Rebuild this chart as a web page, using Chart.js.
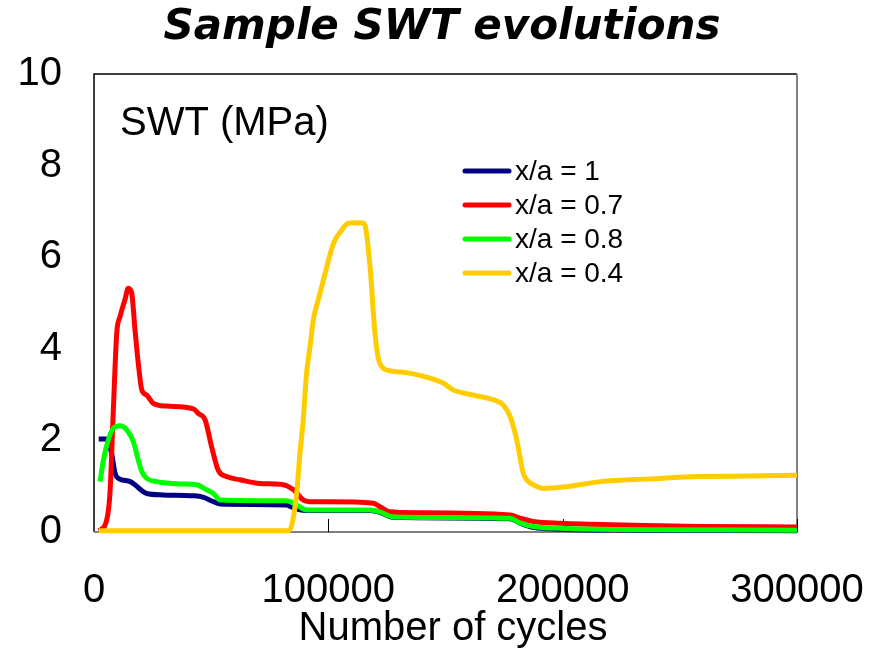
<!DOCTYPE html>
<html>
<head>
<meta charset="utf-8">
<title>Sample SWT evolutions</title>
<script src="https://cdn.jsdelivr.net/npm/chart.js@4.4.1/dist/chart.umd.min.js"></script>
<style>
    html, body { margin: 0; padding: 0; background: #fff; }
</style>
</head>
<body>
<canvas id="chart" width="876" height="667"></canvas>
<script>
// ─── Data ────────────────────────────────────────────────
const TITLE = 'Sample SWT evolutions';
const Y_LABEL = 'SWT (MPa)';
const X_LABEL = 'Number of cycles';
const X_TICKS = [0, 100000, 200000, 300000];
const Y_TICKS = [0, 2, 4, 6, 8, 10];

const SERIES_LABELS = ['x/a = 1', 'x/a = 0.7', 'x/a = 0.8', 'x/a = 0.4'];
const SERIES_COLORS = ['#000080', '#ff0000', '#00ff00', '#ffcc00'];

// x/a = 1
const cyclesA = [2000, 5000, 7500, 9000, 10500, 15500, 17500, 20500, 22500, 29500, 42500, 46500, 51000, 54000,
    82000, 85000, 90000, 118000, 122000, 127500, 177500, 182000, 187500, 199000, 230000, 300000];
const swtA = [2.03, 2.03, 1.72, 1.28, 1.17, 1.10, 1.03, 0.90, 0.84, 0.81, 0.79, 0.76, 0.66, 0.61,
    0.59, 0.53, 0.47, 0.47, 0.43, 0.32, 0.29, 0.19, 0.10, 0.06, 0.04, 0.03];

// x/a = 0.7
const cyclesB = [2000, 4700, 6800, 8200, 9700, 11100, 13200, 14600, 16100, 17500, 18900, 20400, 22500, 25300,
    31000, 42400, 44500, 47400, 50200, 53000, 56600, 62300, 70800, 80000, 85000, 89300, 93600, 100700,
    119200, 122000, 126300, 136300, 177600, 181800, 187500, 199000, 230000, 258600, 300000];
const swtB = [0.03, 0.15, 0.84, 2.59, 4.34, 4.70, 5.07, 5.32, 5.21, 4.41, 3.68, 3.10, 2.99, 2.81,
    2.75, 2.69, 2.59, 2.45, 1.86, 1.35, 1.21, 1.14, 1.06, 1.04, 0.93, 0.70, 0.66, 0.66,
    0.63, 0.55, 0.44, 0.42, 0.37, 0.30, 0.23, 0.19, 0.15, 0.12, 0.11];

// x/a = 0.8
const cyclesC = [2600, 4000, 6100, 8200, 11100, 14000, 16800, 18900, 20400, 22500, 26800, 36700, 43800, 48100,
    50900, 53800, 82200, 86500, 90700, 117800, 122000, 127700, 177600, 181800, 187500, 199000, 230000, 300000];
const swtC = [1.10, 1.57, 2.01, 2.26, 2.32, 2.23, 1.97, 1.57, 1.32, 1.17, 1.10, 1.05, 1.03, 0.92,
    0.84, 0.70, 0.68, 0.59, 0.48, 0.48, 0.44, 0.33, 0.30, 0.20, 0.12, 0.08, 0.05, 0.04];

// x/a = 0.4
const cyclesD = [2000, 82200, 83600, 85000, 86500, 87900, 89300, 90700, 92200, 93600, 95700, 97900, 102200,
    105700, 108500, 114200, 115600, 117800, 119900, 122000, 126300, 133400, 143400, 149100, 153400, 161900,
    171900, 174500, 177600, 180400, 183200, 185000, 187500, 191800, 201700, 216000, 237300, 258600, 280000, 300000];
const swtD = [0.03, 0.03, 0.05, 0.30, 0.84, 1.72, 2.45, 3.46, 4.05, 4.63, 5.07, 5.50, 6.30,
    6.59, 6.74, 6.75, 6.70, 5.79, 4.34, 3.68, 3.52, 3.48, 3.36, 3.25, 3.10, 2.99,
    2.86, 2.78, 2.52, 2.01, 1.28, 1.12, 1.03, 0.95, 0.99, 1.10, 1.16, 1.21, 1.22, 1.24];

const FONT = "'Liberation Sans', Arial, sans-serif";

const toPoints = (xs, ys) => xs.map((x, i) => ({ x, y: ys[i] }));
const seriesPoints = [
    toPoints(cyclesA, swtA),
    toPoints(cyclesB, swtB),
    toPoints(cyclesC, swtC),
    toPoints(cyclesD, swtD),
];

// Frame, inner ticks, titles, inner label and legend
const decorPlugin = {
    id: 'decor',
    beforeDatasetsDraw(chart) {
        const { ctx, chartArea: a, scales } = chart;
        ctx.save();
        ctx.lineWidth = 1.5;
        ctx.strokeStyle = '#000';
        ctx.beginPath();
        ctx.moveTo(a.left, a.bottom);
        ctx.lineTo(a.left, a.top);
        ctx.lineTo(a.right, a.top);
        ctx.stroke();
        ctx.strokeStyle = '#808080';
        ctx.lineWidth = 2;
        ctx.beginPath();
        ctx.moveTo(a.right, a.top);
        ctx.lineTo(a.right, a.bottom);
        ctx.lineTo(a.left, a.bottom);
        ctx.stroke();
        // small inward tick marks on the x axis
        ctx.strokeStyle = '#000';
        ctx.lineWidth = 1;
        X_TICKS.slice(1).forEach(v => {
            const px = Math.round(scales.x.getPixelForValue(v)) + 0.5;
            ctx.beginPath();
            ctx.moveTo(px, a.bottom);
            ctx.lineTo(px, a.bottom - 13);
            ctx.stroke();
        });
        ctx.restore();
    },
    afterDraw(chart) {
        const { ctx, chartArea: a } = chart;
        ctx.save();
        ctx.fillStyle = '#000';

        // title
        ctx.font = "italic bold 42px 'DejaVu Sans', sans-serif";
        ctx.textAlign = 'center';
        ctx.textBaseline = 'middle';
        ctx.fillText(TITLE, 442, 28);

        // x axis title
        ctx.font = `40px ${FONT}`;
        ctx.textBaseline = 'alphabetic';
        ctx.fillText(X_LABEL, 453, 640);

        // label inside the plot
        ctx.textAlign = 'left';
        ctx.fillText(Y_LABEL, a.left + 26, 135);

        // legend
        ctx.font = `28px ${FONT}`;
        ctx.textBaseline = 'middle';
        SERIES_LABELS.forEach((lab, i) => {
            const y = 171 + i * 34;
            ctx.strokeStyle = SERIES_COLORS[i];
            ctx.lineWidth = 5;
            ctx.lineCap = 'round';
            ctx.beginPath();
            ctx.moveTo(465, y);
            ctx.lineTo(509, y);
            ctx.stroke();
            ctx.fillText(lab, 515, y + 1);
        });
        ctx.restore();
    }
};

new Chart(document.getElementById('chart'), {
    type: 'scatter',
    data: {
        datasets: seriesPoints.map((pts, i) => ({
            label: SERIES_LABELS[i],
            data: pts,
            showLine: true,
            borderColor: SERIES_COLORS[i],
            backgroundColor: SERIES_COLORS[i],
            borderWidth: 5,
            pointRadius: 0,
            cubicInterpolationMode: 'monotone',
            clip: 6,
            order: 4 - i,   // later series drawn on top
        })),
    },
    options: {
        responsive: false,
        animation: false,
        devicePixelRatio: 1,
        layout: { padding: { top: 74, right: 79, left: 0, bottom: 0 } },
        plugins: {
            legend: { display: false },
            title: { display: false },
            tooltip: { enabled: false },
        },
        scales: {
            x: {
                type: 'linear',
                min: 0,
                max: 300000,
                afterFit: s => {
                    s.height = 135;
                    s.paddingLeft = 0;
                    s.paddingRight = 0;
                },
                afterBuildTicks: s => { s.ticks = X_TICKS.map(v => ({ value: v })); },
                grid: { display: false, drawTicks: false },
                border: { display: false },
                ticks: {
                    padding: 35,
                    color: '#000',
                    font: { family: FONT, size: 40 },
                    maxRotation: 0,
                    callback: v => String(v),
                },
            },
            y: {
                min: 0,
                max: 10,
                afterFit: s => {
                    s.width = 94;
                    s.paddingTop = 0;
                    s.paddingBottom = 0;
                },
                afterBuildTicks: s => { s.ticks = Y_TICKS.map(v => ({ value: v })); },
                grid: { display: false, drawTicks: false },
                border: { display: false },
                ticks: {
                    padding: 32,
                    color: '#000',
                    font: { family: FONT, size: 40 },
                    callback: v => String(v),
                },
            },
        },
    },
    plugins: [decorPlugin],
});
</script>
</body>
</html>
